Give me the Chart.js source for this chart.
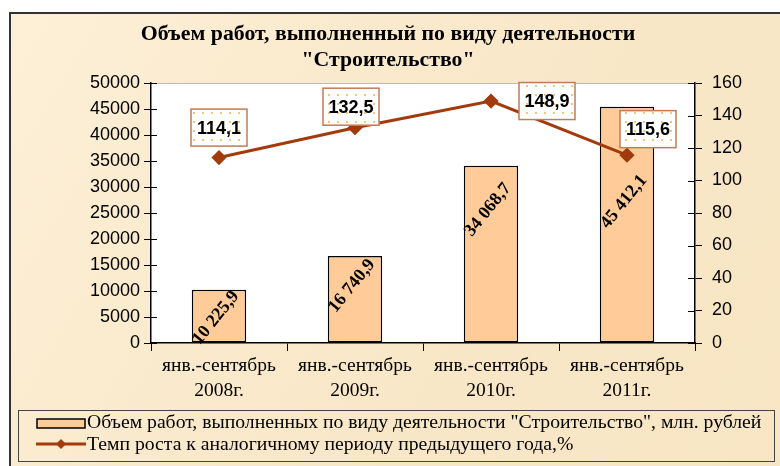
<!DOCTYPE html>
<html>
<head>
<meta charset="utf-8">
<script src="https://cdn.jsdelivr.net/npm/chart.js@4/dist/chart.umd.min.js"></script>
<style>
  html, body { margin: 0; padding: 0; background: #fff; }
  #wrap { width: 780px; height: 466px; position: relative; }
</style>
</head>
<body>
<div id="wrap"><canvas id="grafico" width="780" height="466"></canvas></div>
<script>
const categorias = [
  ['янв.-сентябрь', '2008г.'],
  ['янв.-сентябрь', '2009г.'],
  ['янв.-сентябрь', '2010г.'],
  ['янв.-сентябрь', '2011г.']
]
const volume = [10225.9, 16740.9, 34068.7, 45412.1]
const volumeTxt = ['10 225,9', '16 740,9', '34 068,7', '45 412,1']
const temp = [114.1, 132.5, 148.9, 115.6]
const tempTxt = ['114,1', '132,5', '148,9', '115,6']

const tituloLinhas = ['Объем работ, выполненный по виду деятельности', '"Строительство"']
const legendaBarra = 'Объем работ, выполненных по виду деятельности "Строительство", млн. рублей'
const legendaLinha = 'Темп роста к аналогичному периоду предыдущего года,%'

// deslocamentos das etiquetas (px)
const offsetTemp = [[0, -30], [-4, -21], [56, 0], [21, -26]]
const offsetVol = [28, 30, 44, 95]

const corBarra = '#ffcc99'
const corLinha = '#a33a0c'

function padraoPontos(ctx) {
  const c = document.createElement('canvas')
  c.width = 9
  c.height = 9
  const g = c.getContext('2d')
  g.fillStyle = '#ffffff'
  g.fillRect(0, 0, 9, 9)
  g.fillStyle = '#f9c27e'
  g.fillRect(4, 4, 2, 2)
  return ctx.createPattern(c, 'repeat')
}

const fundoPlugin = {
  id: 'fundo',
  beforeDraw(chart) {
    const { ctx, chartArea: a } = chart
    ctx.save()
    ctx.fillStyle = '#ffffff'
    ctx.fillRect(0, 0, 780, 466)
    const grad = ctx.createLinearGradient(0, 0, 780, 466)
    grad.addColorStop(0, '#fdf0d8')
    grad.addColorStop(0.5, '#f9e8c9')
    grad.addColorStop(1, '#f7e5c3')
    ctx.fillStyle = grad
    ctx.fillRect(10, 13, 775, 460)
    ctx.strokeStyle = '#333'
    ctx.lineWidth = 2
    ctx.strokeRect(10, 13, 790, 470)
    ctx.fillStyle = '#ffffff'
    ctx.fillRect(a.left, a.top, a.right - a.left, a.bottom - a.top)
    ctx.strokeStyle = '#bbb'
    ctx.lineWidth = 1
    ctx.beginPath()
    ctx.moveTo(a.left, a.top + 0.5)
    ctx.lineTo(a.right, a.top + 0.5)
    ctx.stroke()
    // título
    ctx.fillStyle = '#000'
    ctx.font = 'bold 21.8px "Liberation Serif"'
    ctx.textAlign = 'center'
    ctx.textBaseline = 'middle'
    ctx.fillText(tituloLinhas[0], 388, 34)
    ctx.fillText(tituloLinhas[1], 388, 60)
    ctx.restore()
  },
  afterDraw(chart) {
    const { ctx } = chart
    const y = chart.scales.y
    const y2 = chart.scales.y2
    ctx.save()
    // marcas dos eixos cruzando a linha
    ctx.strokeStyle = '#000'
    ctx.lineWidth = 1
    y2.ticks.forEach((t, i) => {
      const py = Math.round(y2.getPixelForTick(i)) + 0.5
      ctx.beginPath()
      ctx.moveTo(y2.left - 7, py)
      ctx.lineTo(y2.left, py)
      ctx.stroke()
    })
    y.ticks.forEach((t, i) => {
      const py = Math.round(y.getPixelForTick(i)) + 0.5
      ctx.beginPath()
      ctx.moveTo(y.right, py)
      ctx.lineTo(y.right + 6, py)
      ctx.stroke()
    })
    // etiquetas das barras
    const metaB = chart.getDatasetMeta(0)
    ctx.font = 'bold 18px "Liberation Serif"'
    ctx.fillStyle = '#000'
    ctx.textAlign = 'center'
    ctx.textBaseline = 'middle'
    metaB.data.forEach((bar, i) => {
      ctx.save()
      ctx.translate(bar.x - 3, bar.y + offsetVol[i])
      ctx.rotate(-51 * Math.PI / 180)
      ctx.fillText(volumeTxt[i], 0, 0)
      ctx.restore()
    })
    // etiquetas da linha
    const metaL = chart.getDatasetMeta(1)
    const pat = padraoPontos(ctx)
    ctx.font = 'bold 18px "Liberation Sans"'
    metaL.data.forEach((p, i) => {
      const cx = p.x + offsetTemp[i][0]
      const cy = p.y + offsetTemp[i][1]
      const w = 56, h = 37
      ctx.fillStyle = pat
      ctx.fillRect(cx - w / 2, cy - h / 2, w, h)
      ctx.strokeStyle = '#c47a55'
      ctx.lineWidth = 1.5
      ctx.strokeRect(cx - w / 2, cy - h / 2, w, h)
      ctx.fillStyle = '#000'
      ctx.fillText(tempTxt[i], cx, cy + 1)
    })
    // legenda
    ctx.strokeStyle = '#444'
    ctx.lineWidth = 1
    ctx.strokeRect(18.5, 410.5, 756, 51)
    ctx.fillStyle = corBarra
    ctx.fillRect(37, 419, 48, 9)
    ctx.strokeStyle = '#000'
    ctx.lineWidth = 1.5
    ctx.strokeRect(37, 419, 48, 9)
    ctx.strokeStyle = corLinha
    ctx.lineWidth = 3
    ctx.beginPath()
    ctx.moveTo(36, 444)
    ctx.lineTo(86, 444)
    ctx.stroke()
    ctx.fillStyle = corLinha
    ctx.beginPath()
    ctx.moveTo(61, 439)
    ctx.lineTo(66, 444)
    ctx.lineTo(61, 449)
    ctx.lineTo(56, 444)
    ctx.closePath()
    ctx.fill()
    ctx.fillStyle = '#000'
    ctx.font = '19.7px "Liberation Serif"'
    ctx.textAlign = 'left'
    ctx.fillText(legendaBarra, 87, 423)
    ctx.fillText(legendaLinha, 87, 445)
    ctx.restore()
  }
}

const ctx = document.getElementById('grafico').getContext('2d')
new Chart(ctx, {
  type: 'bar',
  data: {
    labels: categorias,
    datasets: [
      {
        type: 'bar',
        label: legendaBarra,
        data: volume,
        backgroundColor: corBarra,
        borderColor: '#000',
        borderWidth: 1.5,
        borderSkipped: false,
        categoryPercentage: 0.4,
        barPercentage: 1,
        yAxisID: 'y',
        order: 2
      },
      {
        type: 'line',
        label: legendaLinha,
        data: temp,
        borderColor: corLinha,
        backgroundColor: corLinha,
        borderWidth: 3,
        pointStyle: 'rectRot',
        pointRadius: 5.5,
        pointHoverRadius: 5.5,
        yAxisID: 'y2',
        order: 1
      }
    ]
  },
  options: {
    responsive: false,
    animation: false,
    layout: { padding: { top: 83, bottom: 63, left: 0, right: 0 } },
    plugins: {
      legend: { display: false },
      title: { display: false },
      tooltip: { enabled: false }
    },
    scales: {
      x: {
        grid: { drawOnChartArea: false, color: '#000', tickLength: 8, offset: true },
        border: { color: '#000', width: 1.5 },
        ticks: {
          color: '#000',
          font: { family: '"Liberation Serif"', size: 19.5, lineHeight: 1.3 },
          padding: 2,
          maxRotation: 0
        },
        afterFit: (s) => { s.height = 60 }
      },
      y: {
        position: 'left',
        min: 0,
        max: 50000,
        grid: { drawOnChartArea: false, color: '#000', tickLength: 7 },
        border: { color: '#000', width: 1.5 },
        ticks: {
          stepSize: 5000,
          color: '#000',
          font: { family: '"Liberation Sans"', size: 18 },
          padding: 4,
          callback: (v) => String(v)
        },
        afterFit: (s) => { s.width = 151 }
      },
      y2: {
        position: 'right',
        min: 0,
        max: 160,
        grid: { drawOnChartArea: false, color: '#000', tickLength: 7 },
        border: { color: '#000', width: 1.5 },
        ticks: {
          stepSize: 20,
          color: '#000',
          font: { family: '"Liberation Sans"', size: 18 },
          padding: 10
        },
        afterFit: (s) => { s.width = 85 }
      }
    }
  },
  plugins: [fundoPlugin]
})
</script>
</body>
</html>
